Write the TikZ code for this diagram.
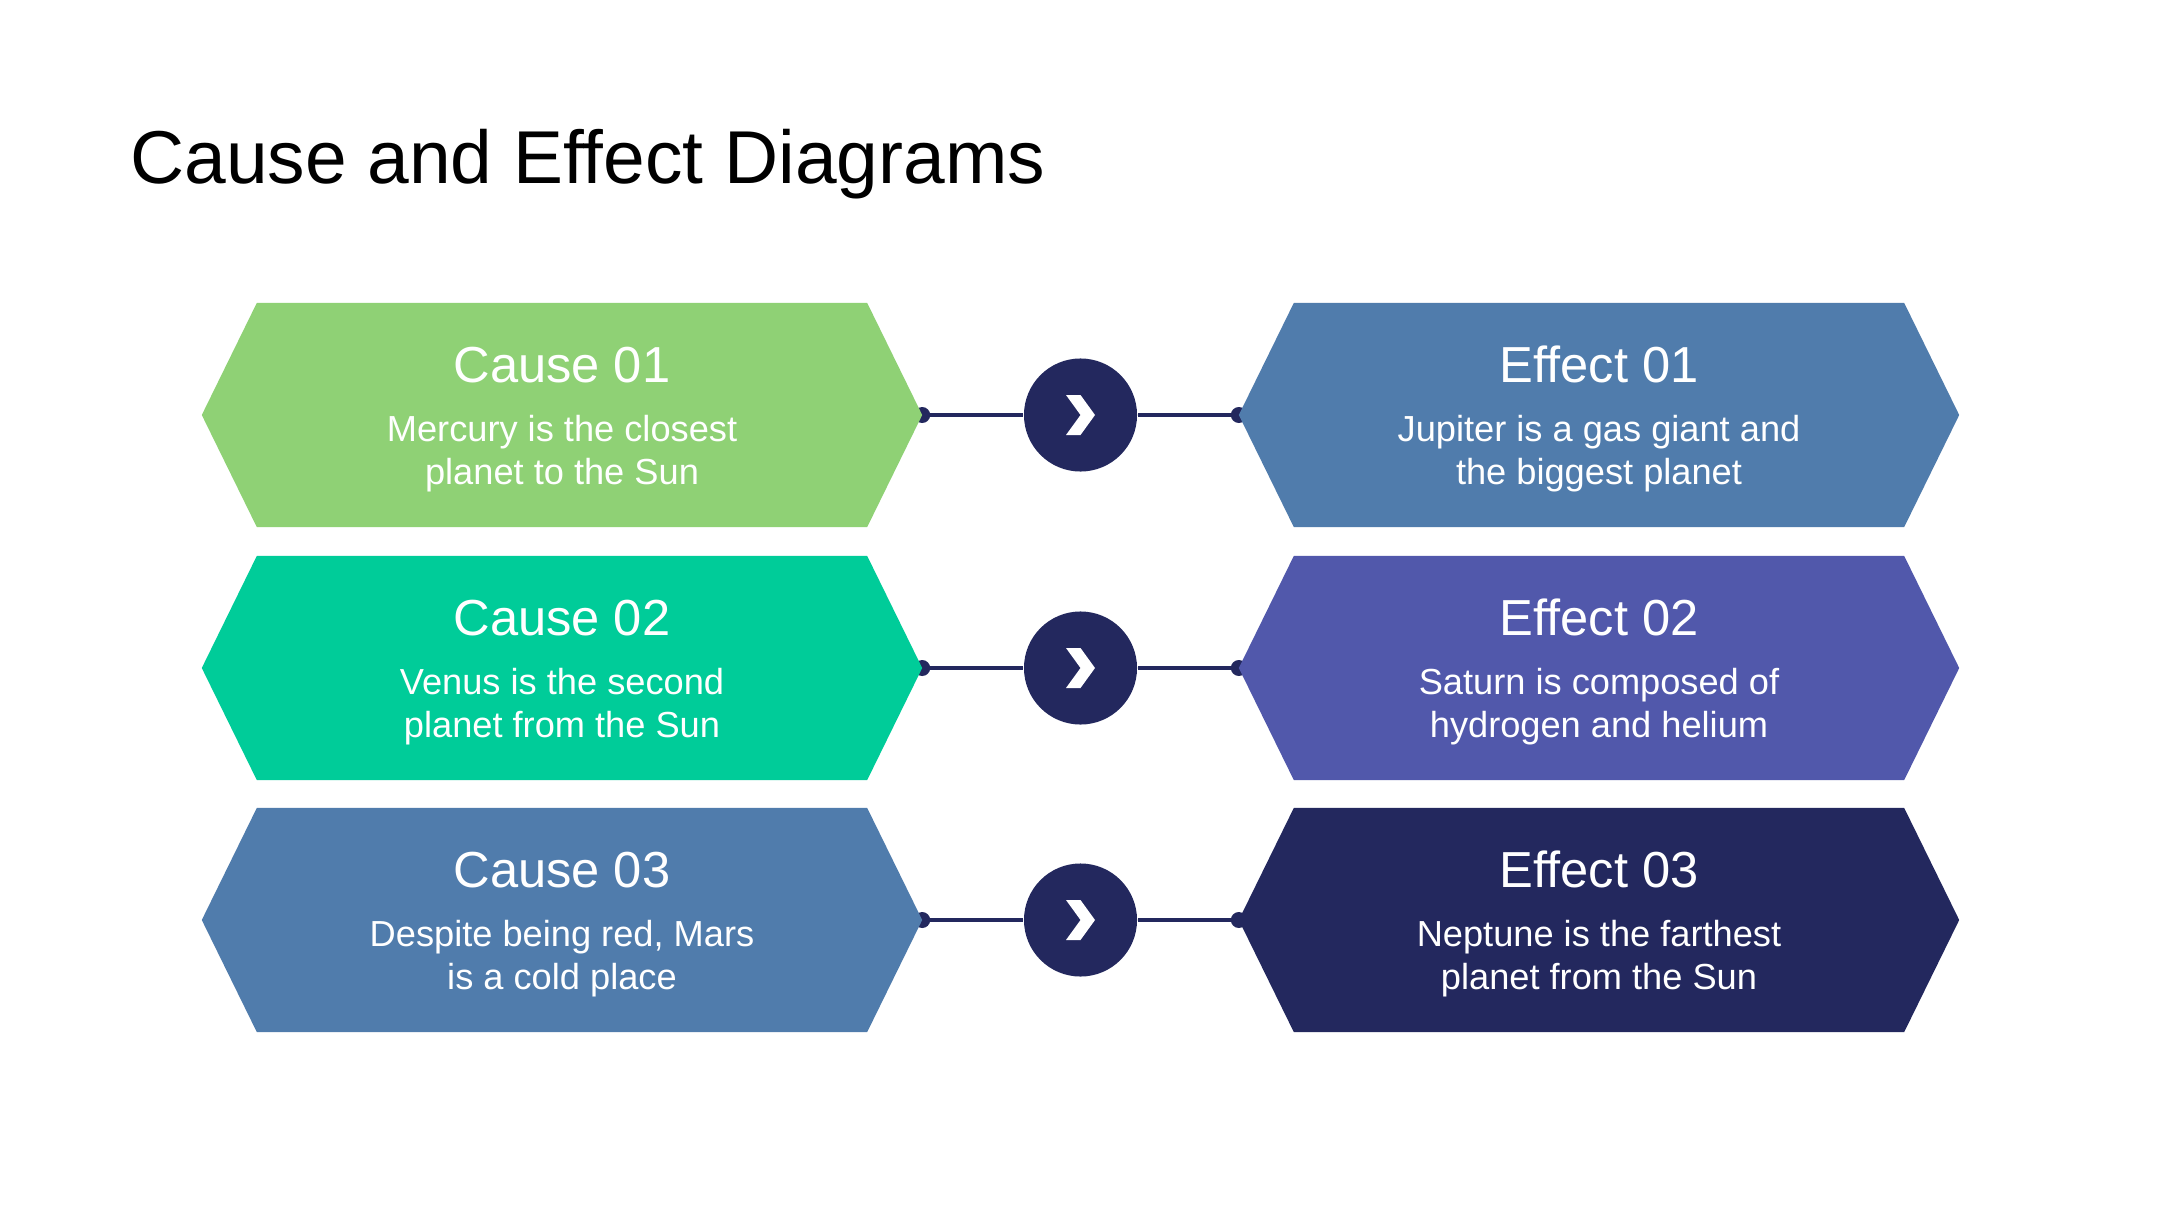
\documentclass[tikz,border=0pt]{standalone}
\usepackage{fontspec}
\setmainfont{Liberation Sans}
\usetikzlibrary{shapes.symbols,backgrounds}
\definecolor{leafgreen}{HTML}{8FD175}
\definecolor{seagreen}{HTML}{00CC99}
\definecolor{steelblue}{HTML}{507CAC}
\definecolor{slateviolet}{HTML}{5158AB}
\definecolor{deepnavy}{HTML}{23285E}

\begin{document}
\begin{tikzpicture}[x=0.01cm,y=-0.01cm,
  hexa/.style={signal, signal to=east and west, signal pointer angle=127.7,
    minimum width=7.2cm, minimum height=2.24cm, inner sep=0pt, outer sep=0pt},
  knob/.style={circle, fill=deepnavy, minimum size=1.13cm, inner sep=0pt},
  head/.style={anchor=base, text=white, font=\fontsize{14.4}{17}\selectfont},
  body/.style={anchor=base, text=white, font=\fontsize{10.3}{12.2}\selectfont},
  link/.style={deepnavy, line width=1.1pt}]
\useasboundingbox (0,0) rectangle (2160,1215);

\node[anchor=base west, font=\fontsize{21.3}{26}\selectfont] (title) at (118,183) {Cause and Effect Diagrams};

\node[hexa, fill=leafgreen] (cause1) at (562,415) {};
\node[hexa, fill=seagreen] (cause2) at (562,668) {};
\node[hexa, fill=steelblue] (cause3) at (562,920) {};
\node[hexa, fill=steelblue] (effect1) at (1599,415) {};
\node[hexa, fill=slateviolet] (effect2) at (1599,668) {};
\node[hexa, fill=deepnavy] (effect3) at (1599,920) {};

\node[knob] (arr1) at (1080.5,415) {};
\node[knob] (arr2) at (1080.5,668) {};
\node[knob] (arr3) at (1080.5,920) {};
\fill[white, shift={(arr1)}] (-14.5,-20) -- (0,-20) -- (14.5,0) -- (0,20) -- (-14.5,20) -- (0,0) -- cycle;
\fill[white, shift={(arr2)}] (-14.5,-20) -- (0,-20) -- (14.5,0) -- (0,20) -- (-14.5,20) -- (0,0) -- cycle;
\fill[white, shift={(arr3)}] (-14.5,-20) -- (0,-20) -- (14.5,0) -- (0,20) -- (-14.5,20) -- (0,0) -- cycle;

\node[head] (cause1h) at (562,382) {Cause 01};
\node[body] (cause1a) at (562,441) {Mercury is the closest};
\node[body] (cause1b) at (562,484) {planet to the Sun};

\node[head] (cause2h) at (562,635) {Cause 02};
\node[body] (cause2a) at (562,694) {Venus is the second};
\node[body] (cause2b) at (562,737) {planet from the Sun};

\node[head] (cause3h) at (562,887) {Cause 03};
\node[body] (cause3a) at (562,946) {Despite being red, Mars};
\node[body] (cause3b) at (562,989) {is a cold place};

\node[head] (effect1h) at (1599,382) {Effect 01};
\node[body] (effect1a) at (1599,441) {Jupiter is a gas giant and};
\node[body] (effect1b) at (1599,484) {the biggest planet};

\node[head] (effect2h) at (1599,635) {Effect 02};
\node[body] (effect2a) at (1599,694) {Saturn is composed of};
\node[body] (effect2b) at (1599,737) {hydrogen and helium};

\node[head] (effect3h) at (1599,887) {Effect 03};
\node[body] (effect3a) at (1599,946) {Neptune is the farthest};
\node[body] (effect3b) at (1599,989) {planet from the Sun};

\begin{scope}[on background layer]
\fill[white] (0,0) rectangle (2160,1215);
\draw[link] (cause1.east) -- (arr1) -- (effect1.west);
\draw[link] (cause2.east) -- (arr2) -- (effect2.west);
\draw[link] (cause3.east) -- (arr3) -- (effect3.west);
\fill[deepnavy] (cause1.east) circle (8) (effect1.west) circle (8);
\fill[deepnavy] (cause2.east) circle (8) (effect2.west) circle (8);
\fill[deepnavy] (cause3.east) circle (8) (effect3.west) circle (8);
\end{scope}
\end{tikzpicture}
\end{document}
